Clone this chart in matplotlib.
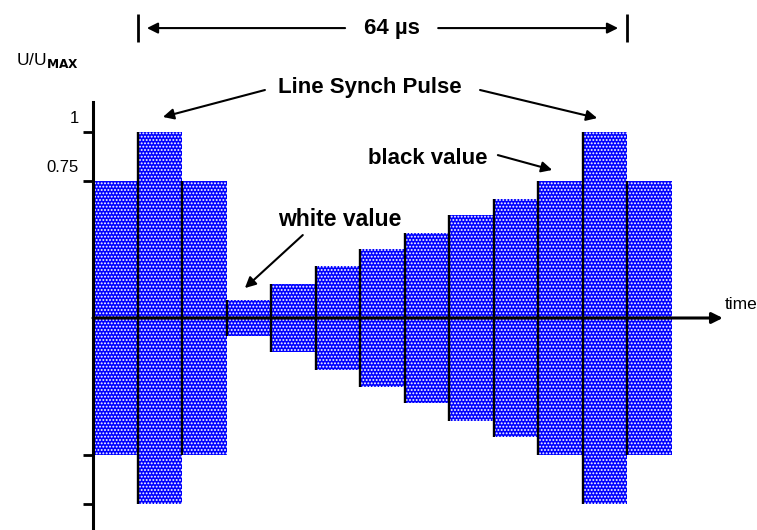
import matplotlib.pyplot as plt
import numpy as np

plt.rcParams['font.family'] = ['Liberation Sans', 'DejaVu Sans']
plt.rcParams['hatch.linewidth'] = 0.9

# signal levels (U/Umax) of the 13 time slots, drawn symmetric around zero
levels = [0.735, 1.0, 0.735, 0.095, 0.185, 0.278, 0.369, 0.459, 0.552, 0.642, 0.735, 1.0, 0.735]
tick_pos = [1.0, 0.735, -0.735, -1.0]
tick_labels = ['1', '0.75', '', '']

slots = np.arange(len(levels))
h = np.array(levels)

fig = plt.figure(figsize=(7.57, 5.30), dpi=100)
ax = fig.add_axes([0, 0, 1, 1])
ax.set_xlim(-2.088, 14.908)
ax.set_ylim(-1.140, 1.710)

ax.bar(slots, 2 * h, bottom=-h, width=1.0, align='edge',
       color='#0000ff', edgecolor='white', linewidth=0, hatch='.....')
# black line at the left of every slot
ax.vlines(slots[1:], -h[1:], h[1:], color='black', lw=1.7)

for s in ['top', 'right', 'bottom']:
    ax.spines[s].set_visible(False)
ax.spines['left'].set_position(('data', 0))
ax.spines['left'].set_bounds(-1.2, 1.161)
ax.spines['left'].set_linewidth(2.2)
ax.set_xticks([])
ax.set_yticks(tick_pos)
ax.set_yticklabels([])
ax.tick_params(axis='y', direction='out', length=7, width=2)
for p, lab in zip(tick_pos, tick_labels):
    ax.annotate(lab, (0, p), xytext=(-10, 10), textcoords='offset points',
                ha='right', va='center', fontsize=12)

ax.text(-1.73, 1.387, r'U/U$_{\mathbf{MAX}}$', fontsize=12.5, va='center', ha='left')

# time axis
ax.annotate('', xy=(14.14, 0), xytext=(0, 0),
            arrowprops=dict(arrowstyle='-|>', color='black', lw=2.2, mutation_scale=16,
                            shrinkA=0, shrinkB=0))
ax.text(14.19, 0.07, 'time', fontsize=12.5, ha='left', va='center')

# 64 us span
ax.vlines([1, 12], 1.484, 1.634, color='black', lw=2)
ax.text(6.71, 1.559, '64 µs', fontsize=16, fontweight='bold', ha='center', va='center')
arr = dict(arrowstyle='-|>', color='black', lw=1.5, mutation_scale=16, shrinkA=0, shrinkB=0)
ax.annotate('', xy=(1.21, 1.559), xytext=(5.66, 1.559), arrowprops=arr)
ax.annotate('', xy=(11.79, 1.559), xytext=(7.75, 1.559), arrowprops=arr)

# labels
ax.text(6.22, 1.237, 'Line Synch Pulse', fontsize=16, fontweight='bold', ha='center', va='center')
ax.annotate('', xy=(1.57, 1.081), xytext=(3.86, 1.226), arrowprops=arr)
ax.annotate('', xy=(11.32, 1.075), xytext=(8.69, 1.226), arrowprops=arr)

ax.text(7.52, 0.860, 'black value', fontsize=16, fontweight='bold', ha='center', va='center')
ax.annotate('', xy=(10.31, 0.796), xytext=(9.09, 0.876), arrowprops=arr)

ax.text(5.55, 0.527, 'white value', fontsize=16.5, fontweight='bold', ha='center', va='center')
ax.annotate('', xy=(3.41, 0.161), xytext=(4.71, 0.446), arrowprops=arr)

fig.savefig('out.png', dpi=100)
